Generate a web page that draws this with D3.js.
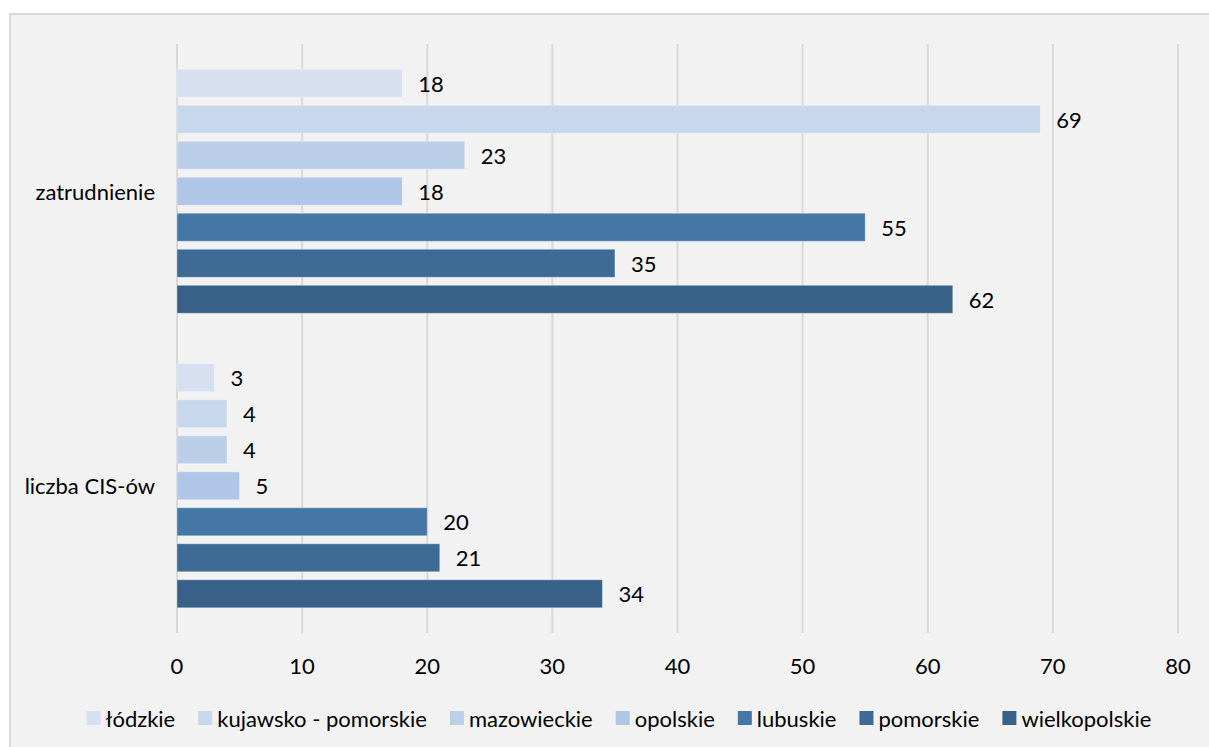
<!DOCTYPE html>
<html>
<head>
<meta charset="utf-8">
<script src="https://cdn.jsdelivr.net/npm/d3@7"></script>
<style>
	html, body { margin: 0; padding: 0; background: #ffffff; }
	svg { display: block; }
	text { font-family: Lato, "Open Sans", sans-serif; fill: #000000; }
</style>
</head>
<body>
<svg id="chart" width="1209" height="747"></svg>
<script>
// categories (top to bottom) and series
const categories = ["zatrudnienie", "liczba CIS-ów"];
const seriesNames = ["łódzkie", "kujawsko - pomorskie", "mazowieckie", "opolskie", "lubuskie", "pomorskie", "wielkopolskie"];
const seriesColors = ["#d6e0f0", "#c7d7ec", "#bccfe9", "#afc6e6", "#4477a5", "#3e6b95", "#376187"];
// values per series: [zatrudnienie, liczba CIS-ów]
const lodzkie = [18, 3];
const kujawskoPomorskie = [69, 4];
const mazowieckie = [23, 4];
const opolskie = [18, 5];
const lubuskie = [55, 20];
const pomorskie = [35, 21];
const wielkopolskie = [62, 34];
const seriesValues = [lodzkie, kujawskoPomorskie, mazowieckie, opolskie, lubuskie, pomorskie, wielkopolskie];
const xTicks = [0, 10, 20, 30, 40, 50, 60, 70, 80];

const svg = d3.select('#chart');
const fontsize = 22;

// chart area background + border (runs off the right/bottom of the window)
svg.append("rect")
	.attr("x", 10).attr("y", 14)
	.attr("width", 1220).attr("height", 760)
	.attr("fill", "#f2f2f2")
	.attr("stroke", "#d9d9d9")
	.attr("stroke-width", 2);

const plotLeft = 177, plotRight = 1178, plotTop = 44, plotBottom = 633;

const x = d3.scaleLinear().domain([0, 80]).range([plotLeft, plotRight]);
const y0 = d3.scaleBand().domain(categories).range([plotTop, plotBottom]);
const y1 = d3.scaleBand().domain(seriesNames).range([0, y0.bandwidth()])
	.paddingInner(0.222).paddingOuter(0.7);

// vertical gridlines
svg.append("g").selectAll("line")
	.data(xTicks)
	.join("line")
	.attr("x1", d => x(d)).attr("x2", d => x(d))
	.attr("y1", plotTop).attr("y2", plotBottom)
	.attr("stroke", "#d9d9d9")
	.attr("stroke-width", 2);

// tick labels
svg.append("g").selectAll("text")
	.data(xTicks)
	.join("text")
	.attr("x", d => x(d))
	.attr("y", 665)
	.attr("text-anchor", "middle")
	.attr("dominant-baseline", "central")
	.attr("font-size", fontsize)
	.text(d => d);

// category labels
svg.append("g").selectAll("text")
	.data(categories)
	.join("text")
	.attr("x", 155)
	.attr("y", d => y0(d) + y0.bandwidth() / 2)
	.attr("text-anchor", "end")
	.attr("dominant-baseline", "central")
	.attr("font-size", fontsize)
	.text(d => d);

// bars
seriesNames.forEach((name, si) => {
	const g = svg.append("g");
	categories.forEach((cat, ci) => {
		const v = seriesValues[si][ci];
		const yy = y0(cat) + y1(name);
		g.append("rect")
			.attr("x", x(0))
			.attr("y", yy)
			.attr("width", x(v) - x(0))
			.attr("height", y1.bandwidth())
			.attr("fill", seriesColors[si])
			.attr("stroke", "rgba(255,255,255,0.35)")
			.attr("stroke-width", 1);
		g.append("text")
			.attr("x", x(v) + 16)
			.attr("y", yy + y1.bandwidth() / 2)
			.attr("dominant-baseline", "central")
			.attr("font-size", fontsize)
			.text(v);
	});
});

// legend
const legend = svg.append("g");
const gap = 23;
let lx = 0;
seriesNames.forEach((name, i) => {
	const it = legend.append("g").attr("transform", "translate(" + lx + ",0)");
	it.append("rect")
		.attr("x", 0).attr("y", -7)
		.attr("width", 14).attr("height", 14)
		.attr("fill", seriesColors[i]);
	const t = it.append("text")
		.attr("x", 19)
		.attr("y", 0)
		.attr("dominant-baseline", "central")
		.attr("font-size", fontsize)
		.text(name);
	lx += 19 + t.node().getComputedTextLength() + gap;
});
const legendWidth = lx - gap;
legend.attr("transform", "translate(" + (619 - legendWidth / 2) + ",718)");
</script>
</body>
</html>
